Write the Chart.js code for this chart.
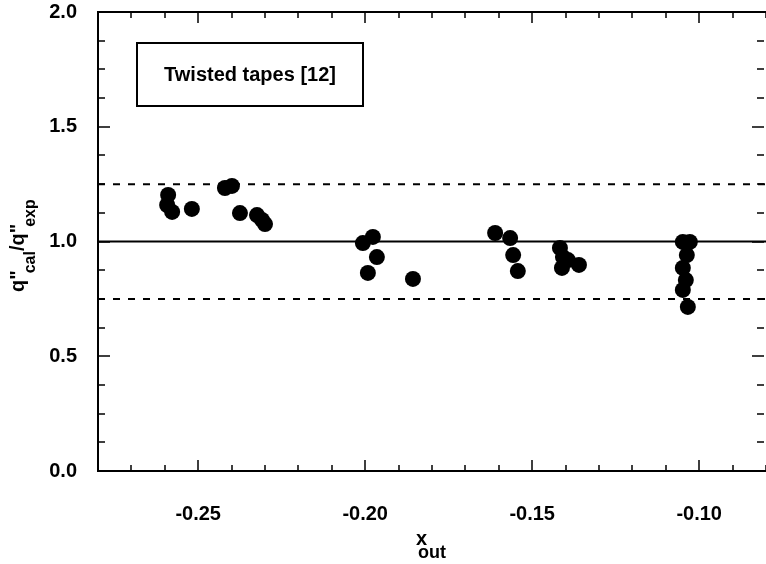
<!DOCTYPE html>
<html><head><meta charset="utf-8">
<script src="https://cdn.jsdelivr.net/npm/chart.js@4/dist/chart.umd.min.js"></script>
<style>html,body{margin:0;padding:0;background:#fff}#wrap{width:766px;height:564px;position:relative}</style>
</head><body><div id="wrap"><canvas id="c" width="766" height="564"></canvas></div>
<script>
// ---- data ----
const xOut = [-0.2590,-0.2593,-0.2578,-0.2519,-0.2420,-0.2399,-0.2375,-0.2324,-0.2309,-0.2300,
  -0.2007,-0.1977,-0.1965,-0.1992,-0.1857,
  -0.1611,-0.1566,-0.1557,-0.1543,-0.1417,-0.1408,-0.1393,-0.1411,-0.1360,
  -0.1049,-0.1028,-0.1037,-0.1049,-0.1040,-0.1049,-0.1034];
const qRatio = [1.203,1.159,1.129,1.142,1.233,1.242,1.124,1.115,1.094,1.076,
  0.993,1.020,0.932,0.863,0.837,
  1.037,1.015,0.941,0.871,0.972,0.932,0.919,0.885,0.898,
  0.998,0.998,0.941,0.885,0.832,0.789,0.715];
const xRange = [-0.28, -0.08];
const yRange = [0.0, 2.0];
const xTickLabels = [-0.25, -0.20, -0.15, -0.10];
const xMinorTicks = [-0.28,-0.27,-0.26,-0.25,-0.24,-0.23,-0.22,-0.21,-0.20,-0.19,-0.18,-0.17,-0.16,-0.15,-0.14,-0.13,-0.12,-0.11,-0.10,-0.09,-0.08];
const yTickLabels = [0.0, 0.5, 1.0, 1.5, 2.0];
const yMinorTicks = [0.125,0.25,0.375,0.625,0.75,0.875,1.125,1.25,1.375,1.625,1.75,1.875];
const solidLine = 1.0;
const dashedLines = [1.25, 0.75];
const legendText = 'Twisted tapes [12]';

const FONT = '"Liberation Sans", Arial, Helvetica, sans-serif';
const points = xOut.map((x, i) => ({x, y: qRatio[i]}));
const lineData = v => [{x: xRange[0], y: v}, {x: xRange[1], y: v}];

const decor = {
  id: 'decor',
  afterDraw(chart) {
    const ctx = chart.ctx, xs = chart.scales.x, ys = chart.scales.y;
    const {left, right, top, bottom} = chart.chartArea;
    ctx.save();
    ctx.strokeStyle = '#000'; ctx.lineWidth = 2;
    ctx.beginPath();
    ctx.moveTo(left, top); ctx.lineTo(right + 2, top);
    ctx.moveTo(left, top - 1); ctx.lineTo(left, bottom + 1);
    ctx.moveTo(left, bottom); ctx.lineTo(right + 2, bottom);
    ctx.moveTo(right + 1, top); ctx.lineTo(right + 1, bottom);
    ctx.stroke();
    ctx.lineWidth = 1.5;
    ctx.beginPath();
    for (const v of xMinorTicks) {
      const p = Math.round(xs.getPixelForValue(v));
      const major = xTickLabels.some(t => Math.abs(t - v) < 1e-9);
      const l = major ? 11 : 6;
      ctx.moveTo(p, bottom); ctx.lineTo(p, bottom - l);
      ctx.moveTo(p, top); ctx.lineTo(p, top + l);
    }
    for (const v of yMinorTicks.concat(yTickLabels)) {
      const p = Math.round(ys.getPixelForValue(v));
      const major = yTickLabels.some(t => Math.abs(t - v) < 1e-9);
      const l = major ? 12 : 7;
      ctx.moveTo(left, p); ctx.lineTo(left + l, p);
      ctx.moveTo(right - 2, p); ctx.lineTo(right - 2 - l, p);
    }
    ctx.stroke();
    // legend box
    ctx.lineWidth = 2;
    ctx.strokeRect(137, 43, 226, 63);
    ctx.fillStyle = '#000';
    ctx.font = 'bold 20px ' + FONT;
    ctx.textAlign = 'center'; ctx.textBaseline = 'middle';
    ctx.fillText(legendText, 250, 75);
    // axis titles
    ctx.textAlign = 'left'; ctx.textBaseline = 'alphabetic';
    const run = (parts, x0, y0) => {
      let cx = x0;
      for (const [t, size, dy, dx] of parts) {
        ctx.font = 'bold ' + size + 'px ' + FONT;
        cx += dx || 0;
        ctx.fillText(t, cx, y0 + dy);
        cx += ctx.measureText(t).width;
      }
    };
    ctx.save();
    ctx.translate(24, 292);
    ctx.rotate(-Math.PI / 2);
    run([['q"', 20, 0], ['cal', 16, 11, -3], ['/', 20, 0], ['q"', 20, 0], ['exp', 16, 11, -3]], 0, 0);
    ctx.restore();
    ctx.font = 'bold 20px ' + FONT;
    ctx.fillText('x', 416, 545);
    ctx.font = 'bold 18px ' + FONT;
    ctx.fillText('out', 418, 558);
    ctx.restore();
  }
};

new Chart(document.getElementById('c'), {
  type: 'scatter',
  data: {
    datasets: [
      {type: 'line', data: lineData(solidLine), borderColor: '#000', borderWidth: 2, pointRadius: 0, fill: false},
      {type: 'line', data: lineData(dashedLines[0]), borderColor: '#000', borderWidth: 2, borderDash: [7, 8], pointRadius: 0, fill: false},
      {type: 'line', data: lineData(dashedLines[1]), borderColor: '#000', borderWidth: 2, borderDash: [7, 8], pointRadius: 0, fill: false},
      {data: points, backgroundColor: '#000', borderColor: '#000', borderWidth: 0, pointRadius: 8, pointHoverRadius: 8}
    ]
  },
  options: {
    responsive: false, animation: false, devicePixelRatio: 1,
    layout: {autoPadding: false, padding: {top: 12, right: 0, left: 0, bottom: 0}},
    plugins: {legend: {display: false}, tooltip: {enabled: false}},
    scales: {
      x: {
        type: 'linear', min: xRange[0], max: xRange[1],
        grid: {display: false, drawTicks: false}, border: {display: false},
        afterBuildTicks: s => { s.ticks = xTickLabels.map(v => ({value: v})); },
        afterFit: s => { s.height = 93; s.paddingLeft = 0; s.paddingRight = 0; s.paddingTop = 0; s.paddingBottom = 0; },
        ticks: {color: '#000', font: {family: FONT, size: 20, weight: 'bold'}, padding: 31, maxRotation: 0,
          callback: v => v.toFixed(2)}
      },
      y: {
        type: 'linear', min: yRange[0], max: yRange[1],
        grid: {display: false, drawTicks: false}, border: {display: false},
        afterBuildTicks: s => { s.ticks = yTickLabels.map(v => ({value: v})); },
        afterFit: s => { s.width = 98; s.paddingLeft = 0; s.paddingRight = 0; s.paddingTop = 0; s.paddingBottom = 0; },
        ticks: {color: '#000', font: {family: FONT, size: 20, weight: 'bold'}, padding: 21,
          callback: v => v.toFixed(1)}
      }
    }
  },
  plugins: [decor]
});
</script></body></html>
